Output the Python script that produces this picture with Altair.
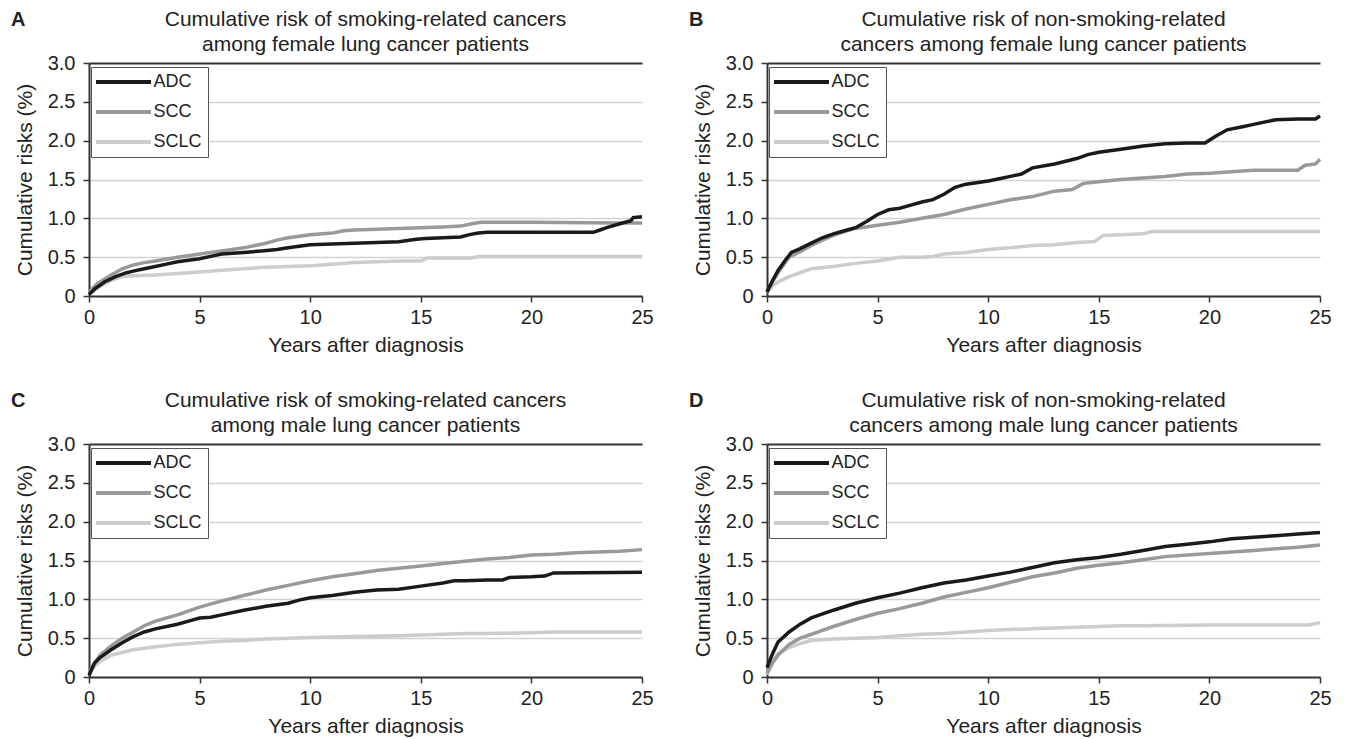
import altair as alt
import pandas as pd

SERIES = ["ADC", "SCC", "SCLC"]
COLORS = ["#1a1a1a", "#999999", "#cccccc"]
YEAR_TICKS = [0, 5, 10, 15, 20, 25]
RISK_TICKS = [0, 0.5, 1.0, 1.5, 2.0, 2.5, 3.0]
X_TITLE = "Years after diagnosis"
Y_TITLE = "Cumulative risks (%)"

# ---------- Panel A: smoking-related, female ----------
A_TITLE = ["Cumulative risk of smoking-related cancers", "among female lung cancer patients"]
A_ADC_X = [0, 0.3, 0.7, 1.2, 1.7, 2, 2.5, 3, 3.5, 4, 4.5, 5, 5.5, 6, 7, 7.8, 8.5, 9, 9.5, 10, 11, 12, 13, 14,
           14.8, 15.2, 16, 16.8, 17.2, 17.6, 18, 20, 22.8, 23.1, 23.4, 24, 24.5, 24.6, 25]
A_ADC_Y = [0.02, 0.1, 0.18, 0.25, 0.30, 0.32, 0.35, 0.38, 0.41, 0.44, 0.46, 0.48, 0.51, 0.54, 0.56, 0.58, 0.60,
           0.62, 0.64, 0.66, 0.67, 0.68, 0.69, 0.70, 0.73, 0.74, 0.75, 0.76, 0.79, 0.81, 0.82, 0.82, 0.82, 0.85,
           0.88, 0.93, 0.97, 1.01, 1.02]
A_SCC_X = [0, 0.3, 0.6, 1, 1.5, 2, 2.5, 3, 4, 5, 6, 7, 7.5, 8, 8.5, 9, 9.5, 10, 11, 11.5, 12, 13, 14, 15, 16,
           16.8, 17.3, 17.7, 20, 24, 25]
A_SCC_Y = [0.05, 0.14, 0.2, 0.27, 0.35, 0.40, 0.43, 0.45, 0.50, 0.54, 0.58, 0.62, 0.65, 0.68, 0.72, 0.75, 0.77,
           0.79, 0.81, 0.84, 0.85, 0.86, 0.87, 0.88, 0.89, 0.90, 0.93, 0.95, 0.95, 0.94, 0.94]
A_SCLC_X = [0, 0.3, 0.6, 1, 1.5, 2, 3, 4, 5, 6, 7, 8, 9, 10, 11, 12, 13, 14, 15, 15.3, 17.3, 17.6, 25]
A_SCLC_Y = [0.03, 0.09, 0.14, 0.2, 0.25, 0.26, 0.27, 0.29, 0.31, 0.33, 0.35, 0.37, 0.38, 0.39, 0.41, 0.43, 0.44,
            0.45, 0.45, 0.49, 0.49, 0.51, 0.51]

# ---------- Panel B: non-smoking-related, female ----------
B_TITLE = ["Cumulative risk of non-smoking-related", "cancers among female lung cancer patients"]
B_ADC_X = [0, 0.25, 0.5, 0.8, 1.1, 1.5, 2, 2.5, 3, 3.5, 4, 4.5, 5, 5.5, 6, 6.5, 7, 7.5, 8, 8.5, 9, 10, 10.5, 11,
           11.5, 12, 13, 14, 14.5, 15, 16, 17, 18, 19, 19.8, 20.3, 20.8, 21.5, 22, 23, 24, 24.8, 25]
B_ADC_Y = [0.05, 0.2, 0.33, 0.45, 0.56, 0.61, 0.68, 0.75, 0.80, 0.84, 0.88, 0.96, 1.05, 1.11, 1.13, 1.17, 1.21,
           1.24, 1.31, 1.40, 1.44, 1.48, 1.51, 1.54, 1.57, 1.65, 1.70, 1.77, 1.82, 1.85, 1.89, 1.93, 1.96, 1.97,
           1.97, 2.06, 2.14, 2.18, 2.21, 2.27, 2.28, 2.28, 2.32]
B_SCC_X = [0, 0.25, 0.5, 1, 1.5, 2, 2.5, 3, 3.5, 4, 5, 6, 7, 8, 9, 10, 11, 12, 13, 13.8, 14.3, 15, 16, 17, 18,
           19, 20, 21, 22, 24, 24.3, 24.8, 25]
B_SCC_Y = [0.05, 0.18, 0.3, 0.5, 0.57, 0.65, 0.72, 0.78, 0.83, 0.87, 0.91, 0.95, 1.00, 1.05, 1.12, 1.18, 1.24,
           1.28, 1.35, 1.37, 1.45, 1.47, 1.50, 1.52, 1.54, 1.57, 1.58, 1.60, 1.62, 1.62, 1.68, 1.70, 1.76]
B_SCLC_X = [0, 0.25, 0.5, 1, 1.5, 2, 3, 4, 5, 6, 7, 7.5, 8, 9, 10, 11, 12, 13, 14, 14.8, 15.2, 16, 17, 17.4, 25]
B_SCLC_Y = [0.05, 0.13, 0.18, 0.25, 0.3, 0.35, 0.38, 0.42, 0.45, 0.5, 0.5, 0.51, 0.54, 0.56, 0.60, 0.62, 0.65,
            0.66, 0.69, 0.70, 0.78, 0.79, 0.80, 0.83, 0.83]

# ---------- Panel C: smoking-related, male ----------
C_TITLE = ["Cumulative risk of smoking-related cancers", "among male lung cancer patients"]
C_ADC_X = [0, 0.25, 0.5, 1, 1.5, 2, 2.5, 3, 4, 4.5, 5, 5.5, 6, 7, 8, 9, 9.5, 10, 11, 12, 13, 14, 15, 16, 16.5,
           17, 18, 18.7, 19, 20, 20.6, 21, 25]
C_ADC_Y = [0.02, 0.18, 0.25, 0.35, 0.44, 0.52, 0.58, 0.62, 0.68, 0.72, 0.76, 0.77, 0.80, 0.86, 0.91, 0.95, 0.99,
           1.02, 1.05, 1.09, 1.12, 1.13, 1.17, 1.21, 1.24, 1.24, 1.25, 1.25, 1.28, 1.29, 1.30, 1.34, 1.35]
C_SCC_X = [0, 0.25, 0.5, 1, 1.5, 2, 2.5, 3, 4, 5, 6, 7, 8, 9, 10, 11, 12, 13, 14, 15, 16, 17, 18, 19, 20, 21,
           22, 23, 24, 25]
C_SCC_Y = [0.05, 0.18, 0.28, 0.4, 0.5, 0.58, 0.66, 0.72, 0.80, 0.90, 0.98, 1.05, 1.12, 1.18, 1.24, 1.29, 1.33,
           1.37, 1.40, 1.43, 1.46, 1.49, 1.52, 1.54, 1.57, 1.58, 1.60, 1.61, 1.62, 1.64]
C_SCLC_X = [0, 0.25, 0.5, 1, 2, 3, 4, 5, 6, 7, 8, 9, 10, 12, 14, 15, 16, 17, 18, 20, 21, 25]
C_SCLC_Y = [0.05, 0.14, 0.2, 0.28, 0.35, 0.39, 0.42, 0.44, 0.46, 0.47, 0.49, 0.50, 0.51, 0.52, 0.53, 0.54, 0.55,
            0.56, 0.56, 0.57, 0.58, 0.58]

# ---------- Panel D: non-smoking-related, male ----------
D_TITLE = ["Cumulative risk of non-smoking-related", "cancers among male lung cancer patients"]
D_X = [0, 0.25, 0.5, 1, 1.5, 2, 3, 4, 5, 6, 7, 8, 9, 10, 11, 12, 13, 14, 15, 16, 17, 18, 19, 20, 21, 22, 23, 24, 25]
D_ADC_Y = [0.12, 0.3, 0.45, 0.58, 0.68, 0.76, 0.86, 0.95, 1.02, 1.08, 1.15, 1.21, 1.25, 1.30, 1.35, 1.41, 1.47,
           1.51, 1.54, 1.58, 1.63, 1.68, 1.71, 1.74, 1.78, 1.80, 1.82, 1.84, 1.86]
D_SCC_Y = [0.05, 0.18, 0.28, 0.42, 0.50, 0.55, 0.65, 0.74, 0.82, 0.88, 0.95, 1.03, 1.09, 1.15, 1.22, 1.29, 1.34,
           1.40, 1.44, 1.47, 1.51, 1.55, 1.57, 1.59, 1.61, 1.63, 1.65, 1.67, 1.70]
D_SCLC_X = [0, 0.25, 0.5, 1, 1.5, 2, 3, 4, 5, 6, 7, 8, 9, 10, 11, 12, 13, 14, 15, 16, 17, 20, 24.5, 25]
D_SCLC_Y = [0.03, 0.2, 0.3, 0.38, 0.43, 0.47, 0.49, 0.50, 0.51, 0.53, 0.55, 0.56, 0.58, 0.60, 0.61, 0.62, 0.63,
            0.64, 0.65, 0.66, 0.66, 0.67, 0.67, 0.70]

FONT = "Liberation Sans"
PW, PH = 553, 233


def make_df(parts):
    rows = []
    for name, xs, ys in parts:
        for xv, yv in zip(xs, ys):
            rows.append({"series": name, "year": xv, "risk": yv})
    return pd.DataFrame(rows)


def text_layer(txt, xpos, ypos, size, weight, align):
    return alt.Chart(pd.DataFrame({"t": [txt]})).mark_text(
        font=FONT, fontSize=size, fontWeight=weight, align=align, baseline="middle", color="#222222"
    ).encode(text="t:N", x=alt.value(xpos), y=alt.value(ypos))


def panel(letter, title, parts):
    df = make_df(parts)
    base = alt.Chart(df)
    x = alt.X("year:Q", scale=alt.Scale(domain=[0, 25], nice=False),
              axis=alt.Axis(values=YEAR_TICKS, title=X_TITLE, grid=False, labelFlush=False,
                            labelPadding=5, titlePadding=7))
    y = alt.Y("risk:Q", scale=alt.Scale(domain=[0, 3], nice=False),
              axis=alt.Axis(values=RISK_TICKS, title=Y_TITLE, grid=True,
                            labelExpr="datum.value == 0 ? '0' : format(datum.value, '.1f')",
                            gridColor={"condition": {"test": "datum.value >= 3", "value": "#333333"},
                                       "value": "#d2d2d2"},
                            gridWidth={"condition": {"test": "datum.value >= 3", "value": 2},
                                       "value": 1.5},
                            labelPadding=8, titlePadding=12))
    color = alt.Color("series:N", scale=alt.Scale(domain=SERIES, range=COLORS),
                      legend=alt.Legend(title=None, orient="none", legendX=2, legendY=4,
                                        strokeColor="#555555", fillColor="white", padding=6,
                                        symbolType="M-5.5,0H5.5", symbolSize=100, symbolStrokeWidth=4,
                                        symbolOffset=17.5, labelOffset=21, labelFontSize=18,
                                        labelFont=FONT, labelColor="#222222", rowPadding=12))
    layers = [
        base.transform_filter(alt.datum.series == s)
        .mark_line(strokeWidth=3.5)
        .encode(x=x, y=y, color=color)
        for s in reversed(SERIES)
    ]
    decor = [
        text_layer(letter, -78, -43, 20, "bold", "left"),
        text_layer(title[0], PW / 2, -43, 21, "normal", "center"),
        text_layer(title[1], PW / 2, -18, 21, "normal", "center"),
    ]
    return alt.layer(*layers, *decor).properties(width=PW, height=PH)


pA = panel("A", A_TITLE, [("ADC", A_ADC_X, A_ADC_Y), ("SCC", A_SCC_X, A_SCC_Y), ("SCLC", A_SCLC_X, A_SCLC_Y)])
pB = panel("B", B_TITLE, [("ADC", B_ADC_X, B_ADC_Y), ("SCC", B_SCC_X, B_SCC_Y), ("SCLC", B_SCLC_X, B_SCLC_Y)])
pC = panel("C", C_TITLE, [("ADC", C_ADC_X, C_ADC_Y), ("SCC", C_SCC_X, C_SCC_Y), ("SCLC", C_SCLC_X, C_SCLC_Y)])
pD = panel("D", D_TITLE, [("ADC", D_X, D_ADC_Y), ("SCC", D_X, D_SCC_Y), ("SCLC", D_SCLC_X, D_SCLC_Y)])

row1 = alt.hconcat(pA, pB, spacing=34).resolve_scale(color="independent").resolve_legend(color="independent")
row2 = alt.hconcat(pC, pD, spacing=34).resolve_scale(color="independent").resolve_legend(color="independent")

chart = alt.vconcat(row1, row2, spacing=33).resolve_scale(
    color="independent"
).resolve_legend(color="independent").properties(
    padding={"left": 2, "top": 0, "right": 0, "bottom": 0}
).configure(font=FONT).configure_view(stroke="transparent").configure_axis(
    domainColor="#333333", domainWidth=2, tickColor="#333333", tickWidth=1.5, tickSize=6,
    labelFontSize=20, labelColor="#222222", titleFontSize=21, titleFontWeight="normal",
    titleColor="#222222", labelFont=FONT, titleFont=FONT
)

chart.save("out.html", embed_options={"renderer": "svg", "actions": False})
